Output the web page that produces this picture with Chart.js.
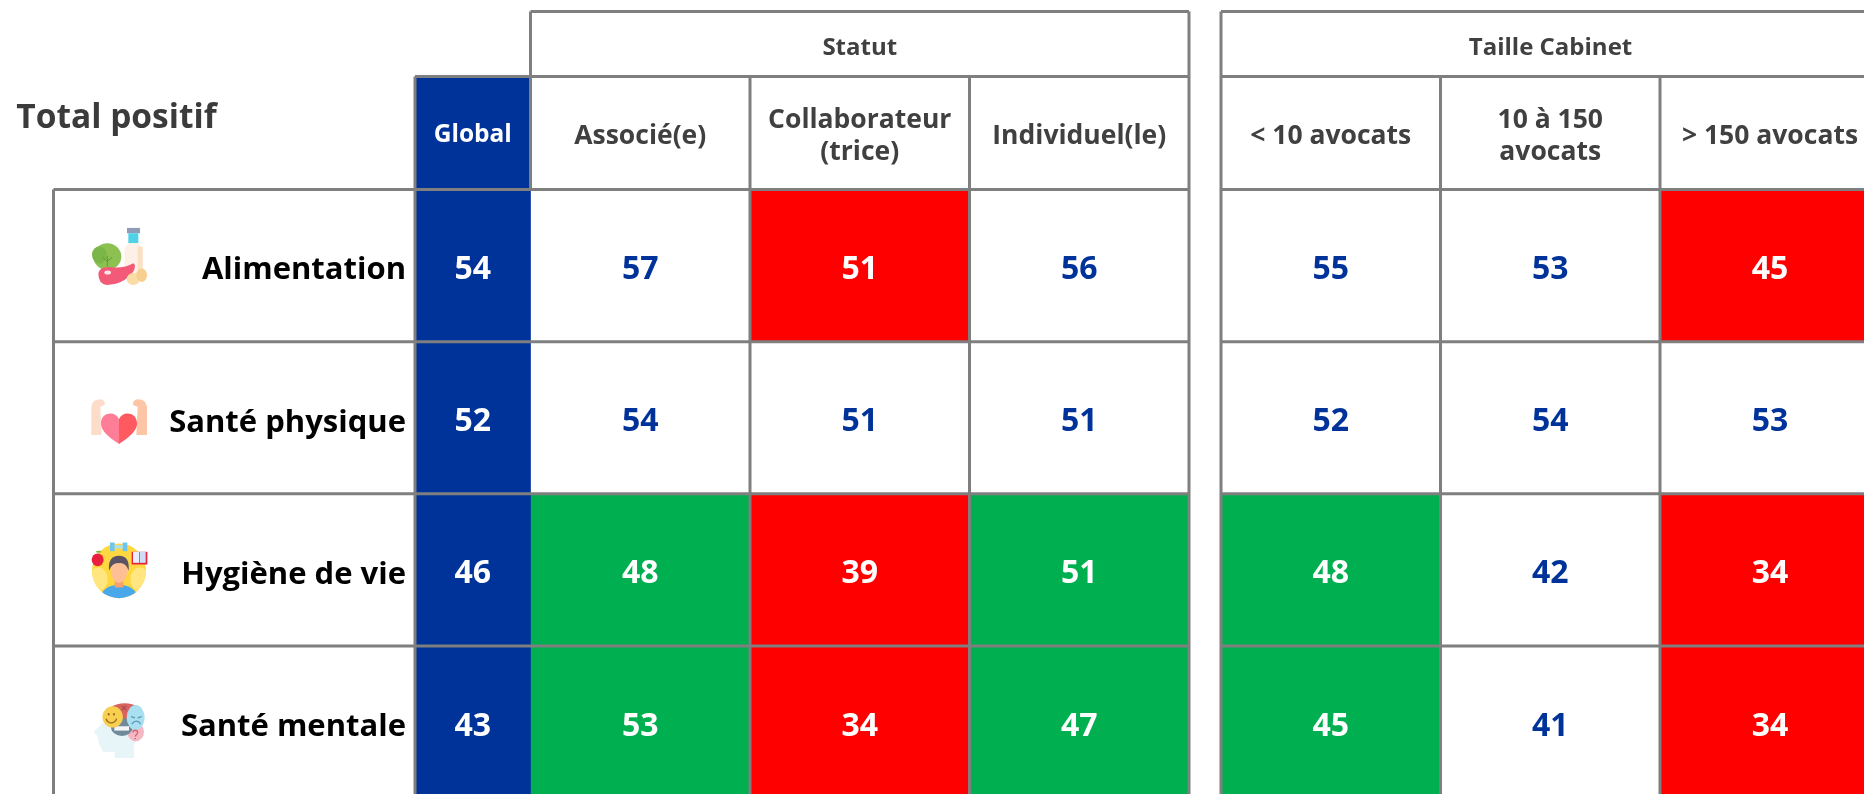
<!DOCTYPE html>
<html lang="fr">
<head>
<meta charset="utf-8">
<title>Total positif</title>
<script src="https://cdn.jsdelivr.net/npm/chart.js@4/dist/chart.umd.min.js"></script>
<style>
  html, body { margin: 0; background: #fff; overflow: hidden; width: 1864px; height: 794px; }
  canvas { display: block; }
</style>
</head>
<body>
<canvas id="table" width="1880" height="798"></canvas>
<script>
// values
const title = "Total positif";
const rows = ["Alimentation", "Santé physique", "Hygiène de vie", "Santé mentale"];
const groups = ["Statut", "Taille Cabinet"];
const columns = [
    ["Associé(e)"], ["Collaborateur", "(trice)"], ["Individuel(le)"],
    ["< 10 avocats"], ["10 à 150", "avocats"], ["> 150 avocats"]
];

const globalValues = [54, 52, 46, 43];
const associe = [57, 54, 48, 53];
const collaborateur = [51, 51, 39, 34];
const individuel = [56, 51, 51, 47];
const moins10 = [55, 52, 48, 45];
const de10a150 = [53, 54, 42, 41];
const plus150 = [45, 53, 34, 34];

// gap to the global score: 1 above, -1 below, 0 in line
const associeGap = [0, 0, 1, 1];
const collaborateurGap = [-1, 0, -1, -1];
const individuelGap = [0, 0, 1, 1];
const moins10Gap = [0, 0, 1, 1];
const de10a150Gap = [0, 0, 0, 0];
const plus150Gap = [-1, 0, -1, -1];

// layout, in pixels
const LEFT = 415;
const WIDTHS = [115.5, 219.5, 219.5, 219.5, 32, 219.5, 219.5, 220];
const Y_TOP = 11.5, Y_SUB = 76.5, Y_BODY = 189.5;
const LABEL_LEFT = 53.5;
const LINE = "#7f7f7f", LINE_W = 3;
const BLUE = "#003399", RED = "#ff0000", GREEN = "#00b050", HEAD = "#404040";
const FONT = "'Open Sans', sans-serif";

const edges = [0];
WIDTHS.forEach(w => edges.push(edges[edges.length - 1] + w));

function gapColor(g) { return g > 0 ? GREEN : g < 0 ? RED : "#ffffff"; }

function column(slot, values, gaps) {
    return {
        data: values.map(() => [edges[slot], edges[slot + 1]]),
        values: values,
        backgroundColor: gaps ? gaps.map(gapColor) : BLUE,
        textColor: gaps ? gaps.map(g => g ? "#ffffff" : BLUE) : values.map(() => "#ffffff"),
        borderWidth: 0,
        barPercentage: 1,
        categoryPercentage: 1,
        grouped: false
    };
}

function hline(ctx, x0, x1, y) {
    ctx.beginPath(); ctx.moveTo(x0, y); ctx.lineTo(x1, y); ctx.stroke();
}
function vline(ctx, x, y0, y1) {
    ctx.beginPath(); ctx.moveTo(x, y0); ctx.lineTo(x, y1); ctx.stroke();
}
function text(ctx, lines, x, y, font, color, lineH) {
    ctx.font = font;
    ctx.fillStyle = color;
    ctx.textAlign = "center";
    ctx.textBaseline = "middle";
    lines.forEach((l, i) => ctx.fillText(l, x, y + (i - (lines.length - 1) / 2) * lineH));
}

// small helpers for the icons
function ell(ctx, x, y, rx, ry, c) {
    ctx.fillStyle = c;
    ctx.beginPath(); ctx.ellipse(x, y, rx, ry, 0, 0, Math.PI * 2); ctx.fill();
}
function rect(ctx, x, y, w, h, c) {
    ctx.fillStyle = c;
    ctx.fillRect(x, y, w, h);
}
function poly(ctx, c, fn) {
    ctx.fillStyle = c;
    ctx.beginPath(); fn(); ctx.fill();
}

// the icons are drawn in the units of a 3x crop
const icons = [
    function food(ctx) {
        ctx.translate(-147, -200);
        rect(ctx, 171, 114, 39, 16, "#8e9cb8");
        rect(ctx, 175, 130, 30, 30, "#4fd2e8");
        poly(ctx, "#fdf0e6", () => {
            ctx.moveTo(175, 160); ctx.lineTo(205, 160);
            ctx.quadraticCurveTo(218, 170, 218, 190);
            ctx.lineTo(218, 262); ctx.lineTo(163, 262); ctx.lineTo(163, 190);
            ctx.quadraticCurveTo(163, 170, 175, 160);
        });
        rect(ctx, 203, 170, 15, 90, "#fbe0c4");
        ell(ctx, 112, 200, 42, 40, "#8cc152");
        ell(ctx, 88, 195, 22, 26, "#7ab648");
        ctx.strokeStyle = "#5f9a3a"; ctx.lineWidth = 3;
        ctx.beginPath(); ctx.moveTo(112, 230); ctx.lineTo(112, 198); ctx.moveTo(112, 215); ctx.lineTo(98, 202); ctx.moveTo(112, 215); ctx.lineTo(126, 202); ctx.stroke();
        poly(ctx, "#f25a78", () => {
            ctx.moveTo(85, 250);
            ctx.quadraticCurveTo(90, 228, 125, 232);
            ctx.quadraticCurveTo(165, 235, 190, 220);
            ctx.quadraticCurveTo(200, 225, 190, 245);
            ctx.quadraticCurveTo(160, 285, 110, 285);
            ctx.quadraticCurveTo(85, 282, 85, 250);
        });
        ell(ctx, 113, 248, 10, 6, "#ffe6ea");
        ell(ctx, 190, 267, 20, 18, "#f9dca6");
        ell(ctx, 215, 256, 16, 20, "#f7cf8e");
    },
    function heart(ctx) {
        ctx.translate(-148, -125);
        poly(ctx, "#fddcc9", () => {
            ctx.moveTo(65, 165); ctx.lineTo(65, 80);
            ctx.quadraticCurveTo(68, 58, 92, 58);
            ctx.quadraticCurveTo(108, 60, 105, 75);
            ctx.lineTo(92, 80); ctx.lineTo(95, 165);
        });
        poly(ctx, "#fcc5a6", () => {
            ctx.moveTo(232, 165); ctx.lineTo(232, 80);
            ctx.quadraticCurveTo(228, 58, 205, 58);
            ctx.quadraticCurveTo(188, 60, 190, 75);
            ctx.lineTo(204, 80); ctx.lineTo(200, 165);
        });
        poly(ctx, "#ff7d97", () => {
            ctx.moveTo(148, 192);
            ctx.bezierCurveTo(115, 170, 92, 150, 94, 128);
            ctx.bezierCurveTo(96, 95, 138, 92, 148, 118);
        });
        poly(ctx, "#ff5a60", () => {
            ctx.moveTo(148, 192);
            ctx.bezierCurveTo(181, 170, 204, 150, 202, 128);
            ctx.bezierCurveTo(200, 95, 158, 92, 148, 118);
        });
    },
    function person(ctx) {
        ctx.translate(-147, -125);
        ctx.save();
        ctx.beginPath(); ctx.ellipse(147, 125, 81, 82, 0, 0, Math.PI * 2); ctx.clip();
        rect(ctx, 60, 40, 180, 170, "#ffd740");
        ell(ctx, 85, 150, 28, 35, "#ffe680");
        ell(ctx, 209, 150, 28, 35, "#ffe680");
        ell(ctx, 147, 205, 55, 38, "#48a8ea");
        ctx.restore();
        rect(ctx, 134, 150, 26, 25, "#f5a06e");
        ell(ctx, 147, 125, 25, 36, "#ffbf94");
        poly(ctx, "#5b5364", () => {
            ctx.moveTo(117, 125);
            ctx.quadraticCurveTo(113, 80, 147, 80);
            ctx.quadraticCurveTo(180, 80, 176, 125);
            ctx.quadraticCurveTo(168, 100, 147, 102);
            ctx.quadraticCurveTo(126, 100, 117, 125);
        });
        rect(ctx, 120, 40, 14, 26, "#6cc6f2");
        rect(ctx, 158, 40, 14, 26, "#6cc6f2");
        rect(ctx, 134, 48, 24, 10, "#a8e0f7");
        ell(ctx, 83, 92, 18, 19, "#e8203c");
        ell(ctx, 86, 68, 8, 3, "#7cb342");
        rect(ctx, 185, 68, 47, 38, "#e8203c");
        rect(ctx, 189, 68, 18, 33, "#e8eefa");
        rect(ctx, 209, 68, 18, 33, "#cfdcf5");
    },
    function head(ctx) {
        ctx.translate(-148, -155);
        poly(ctx, "#e8f5f8", () => {
            ctx.moveTo(135, 236); ctx.lineTo(135, 218); ctx.lineTo(100, 218);
            ctx.lineTo(88, 195); ctx.lineTo(84, 172); ctx.lineTo(72, 158);
            ctx.lineTo(100, 130); ctx.lineTo(200, 130); ctx.lineTo(200, 185);
            ctx.lineTo(192, 200); ctx.lineTo(194, 236);
        });
        ell(ctx, 165, 112, 58, 40, "#d9615f");
        ell(ctx, 198, 158, 25, 28, "#f5b8c2");
        ell(ctx, 157, 143, 33, 27, "#708a9a");
        rect(ctx, 134, 141, 44, 13, "#f2f5f7");
        ell(ctx, 198, 115, 27, 38, "#a9dff0");
        ell(ctx, 129, 113, 31, 32, "#f9cf4f");
        ctx.lineWidth = 4;
        ctx.strokeStyle = "#9a6b20";
        ctx.beginPath(); ctx.arc(125, 115, 16, 0.2, Math.PI - 0.2); ctx.stroke();
        ell(ctx, 117, 105, 3, 4, "#9a6b20");
        ell(ctx, 133, 105, 3, 4, "#9a6b20");
        ctx.strokeStyle = "#5d9ab5";
        ctx.beginPath(); ctx.arc(200, 140, 14, Math.PI + 0.4, -0.4); ctx.stroke();
        ctx.beginPath(); ctx.moveTo(184, 112); ctx.lineTo(196, 116); ctx.moveTo(204, 116); ctx.lineTo(216, 112); ctx.stroke();
        ctx.strokeStyle = "#a8524e";
        ctx.beginPath(); ctx.moveTo(157, 80); ctx.lineTo(169, 92); ctx.moveTo(169, 80); ctx.lineTo(157, 92); ctx.stroke();
        ctx.strokeStyle = "#dd5f70";
        ctx.beginPath(); ctx.arc(197, 160, 7, Math.PI, Math.PI * 2.4); ctx.lineTo(197, 172); ctx.moveTo(197, 176); ctx.lineTo(197, 180); ctx.stroke();
    }
];
const ICON_X = 119;
const ICON_SHIFT = [-9, 4, 1, 9];

const tablePlugin = {
    id: "tablePlugin",
    beforeDatasetsDraw(chart) {
        const ctx = chart.ctx;
        ctx.save();
        ctx.fillStyle = BLUE;
        ctx.fillRect(LEFT, Y_SUB, WIDTHS[0], Y_BODY - Y_SUB);
        ctx.restore();
    },
    afterDatasetsDraw(chart) {
        const ctx = chart.ctx, x = chart.scales.x, y = chart.scales.y;
        const px = edges.map(e => x.getPixelForValue(e));
        const bottom = chart.chartArea.bottom;
        const rowLines = rows.map((r, i) => y.getPixelForTick(i) - y.height / rows.length / 2);
        ctx.save();

        // grid
        ctx.strokeStyle = LINE;
        ctx.lineWidth = LINE_W;
        rowLines.forEach(v => {
            hline(ctx, LABEL_LEFT, px[4], v);
            hline(ctx, px[5], px[8], v);
        });
        vline(ctx, LABEL_LEFT, Y_BODY, bottom);
        hline(ctx, px[0], px[4], Y_SUB);
        hline(ctx, px[5], px[8], Y_SUB);
        hline(ctx, px[1], px[4], Y_TOP);
        hline(ctx, px[5], px[8], Y_TOP);
        vline(ctx, px[0], Y_SUB, bottom);
        vline(ctx, px[1], Y_TOP, Y_BODY);
        [2, 3].forEach(i => vline(ctx, px[i], Y_SUB, bottom));
        vline(ctx, px[4], Y_TOP, bottom);
        vline(ctx, px[5], Y_TOP, bottom);
        [6, 7].forEach(i => vline(ctx, px[i], Y_SUB, bottom));

        // headers
        const headFont = "bold 26.5px " + FONT;
        text(ctx, [title], 116.5, 118, "bold 33.5px " + FONT, "#3b3b3b", 0);
        text(ctx, ["Global"], (px[0] + px[1]) / 2, 135.5, "bold 24.5px " + FONT, "#ffffff", 0);
        text(ctx, [groups[0]], (px[1] + px[4]) / 2, 48.5, "bold 24px " + FONT, HEAD, 0);
        text(ctx, [groups[1]], (px[5] + px[8]) / 2, 48.5, "bold 24px " + FONT, HEAD, 0);
        const slots = [1, 2, 3, 5, 6, 7];
        columns.forEach((c, i) => {
            text(ctx, c, (px[slots[i]] + px[slots[i] + 1]) / 2, 136.5, headFont, HEAD, 32.5);
        });

        // values, on the bars
        chart.data.datasets.forEach((ds, d) => {
            chart.getDatasetMeta(d).data.forEach((bar, i) => {
                const p = bar.getProps(["x", "y", "base"], true);
                text(ctx, [String(ds.values[i])], (p.x + p.base) / 2, p.y + 4.5, "bold 32px " + FONT, ds.textColor[i], 0);
            });
        });

        // icons
        rows.forEach((r, i) => {
            ctx.save();
            ctx.translate(ICON_X, y.getPixelForTick(i) + ICON_SHIFT[i]);
            ctx.scale(1 / 3, 1 / 3);
            icons[i](ctx);
            ctx.restore();
        });
        ctx.restore();
    }
};

new Chart(document.getElementById("table"), {
    type: "bar",
    data: {
        labels: rows,
        datasets: [
            column(0, globalValues),
            column(1, associe, associeGap),
            column(2, collaborateur, collaborateurGap),
            column(3, individuel, individuelGap),
            column(5, moins10, moins10Gap),
            column(6, de10a150, de10a150Gap),
            column(7, plus150, plus150Gap)
        ]
    },
    options: {
        indexAxis: "y",
        responsive: false,
        animation: false,
        layout: { autoPadding: false, padding: { top: Y_BODY, left: 0, right: 0, bottom: 0 } },
        plugins: { legend: { display: false }, tooltip: { enabled: false } },
        scales: {
            x: { type: "linear", min: 0, max: edges[edges.length - 1], display: false },
            y: {
                grid: { display: false, drawTicks: false },
                border: { display: false },
                ticks: { padding: 9, labelOffset: 5, color: "#000000", font: { family: FONT, size: 31, weight: "bold" } },
                afterFit(scale) {
                    scale.width = LEFT;
                    // the axis otherwise reserves room for half a label at the bottom
                    scale.paddingTop = 0;
                    scale.paddingBottom = 0;
                }
            }
        }
    },
    plugins: [tablePlugin]
});
</script>
</body>
</html>
